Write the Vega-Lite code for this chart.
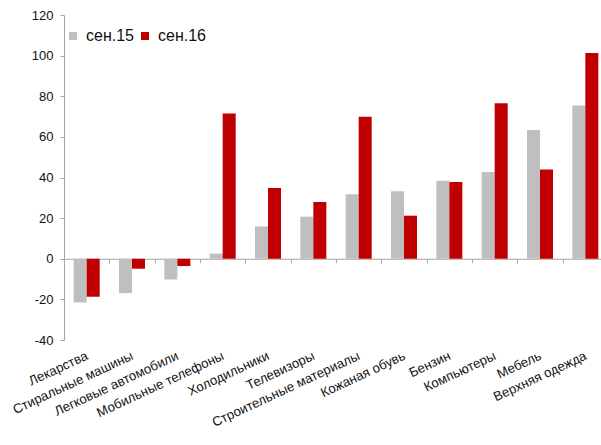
{
  "$schema": "https://vega.github.io/schema/vega-lite/v6.json",
  "autosize": {"type": "none"},
  "padding": {"left": 64, "top": 15, "right": 0, "bottom": 105},
  "width": 537,
  "height": 325,
  "background": "white",
  "config": {
    "font": "Liberation Sans",
    "view": {"stroke": null}
  },
  "data": {
    "values": [
      {"item": "Лекарства", "period": "сен.15", "value": -21.5},
      {"item": "Лекарства", "period": "сен.16", "value": -18.7},
      {"item": "Стиральные машины", "period": "сен.15", "value": -16.9},
      {"item": "Стиральные машины", "period": "сен.16", "value": -4.9},
      {"item": "Легковые автомобили", "period": "сен.15", "value": -10.2},
      {"item": "Легковые автомобили", "period": "сен.16", "value": -3.6},
      {"item": "Мобильные телефоны", "period": "сен.15", "value": 2.5},
      {"item": "Мобильные телефоны", "period": "сен.16", "value": 71.5},
      {"item": "Холодильники", "period": "сен.15", "value": 15.9},
      {"item": "Холодильники", "period": "сен.16", "value": 34.8},
      {"item": "Телевизоры", "period": "сен.15", "value": 20.7},
      {"item": "Телевизоры", "period": "сен.16", "value": 27.9},
      {"item": "Строительные материалы", "period": "сен.15", "value": 31.8},
      {"item": "Строительные материалы", "period": "сен.16", "value": 69.9},
      {"item": "Кожаная обувь", "period": "сен.15", "value": 33.2},
      {"item": "Кожаная обувь", "period": "сен.16", "value": 21.2},
      {"item": "Бензин", "period": "сен.15", "value": 38.4},
      {"item": "Бензин", "period": "сен.16", "value": 37.8},
      {"item": "Компьютеры", "period": "сен.15", "value": 42.7},
      {"item": "Компьютеры", "period": "сен.16", "value": 76.5},
      {"item": "Мебель", "period": "сен.15", "value": 63.4},
      {"item": "Мебель", "period": "сен.16", "value": 44.0},
      {"item": "Верхняя одежда", "period": "сен.15", "value": 75.5},
      {"item": "Верхняя одежда", "period": "сен.16", "value": 101.3}
    ]
  },
  "mark": {"type": "bar"},
  "encoding": {
    "x": {
      "field": "item",
      "type": "nominal",
      "sort": null,
      "title": null,
      "scale": {"range": [0, 544], "paddingInner": 0, "paddingOuter": 0},
      "axis": {
        "offset": -81.25,
        "domainColor": "#a6a6a6",
        "domainWidth": 1,
        "tickColor": "#a6a6a6",
        "tickSize": 4,
        "tickBand": "extent",
        "labelAngle": -25,
        "labelAlign": "right",
        "labelBaseline": "middle",
        "labelPadding": 92,
        "labelFontSize": 13.2,
        "labelColor": "#111111",
        "labelOverlap": false,
        "labelBound": false,
        "labelFlush": false,
        "labelLimit": 300
      }
    },
    "xOffset": {
      "field": "period",
      "type": "nominal",
      "scale": {"paddingInner": 0, "paddingOuter": 0.743}
    },
    "y": {
      "field": "value",
      "type": "quantitative",
      "title": null,
      "scale": {"domain": [-40, 120], "nice": false, "zero": false},
      "axis": {
        "values": [-40, -20, 0, 20, 40, 60, 80, 100, 120],
        "labelExpr": "replace(datum.label, '\u2212', '-')",
        "grid": false,
        "domainColor": "#a6a6a6",
        "tickColor": "#a6a6a6",
        "tickSize": 4,
        "labelPadding": 7,
        "labelFontSize": 13,
        "labelColor": "#111111"
      }
    },
    "color": {
      "field": "period",
      "type": "nominal",
      "scale": {"domain": ["сен.15", "сен.16"], "range": ["#bfbfbf", "#c00000"]},
      "legend": {
        "title": null,
        "orient": "none",
        "legendX": 1,
        "legendY": 13,
        "direction": "horizontal",
        "symbolType": "square",
        "symbolSize": 64,
        "symbolStrokeWidth": 0,
        "labelFontSize": 16,
        "labelColor": "#111111",
        "labelOffset": 5,
        "columnPadding": 3
      }
    }
  }
}
